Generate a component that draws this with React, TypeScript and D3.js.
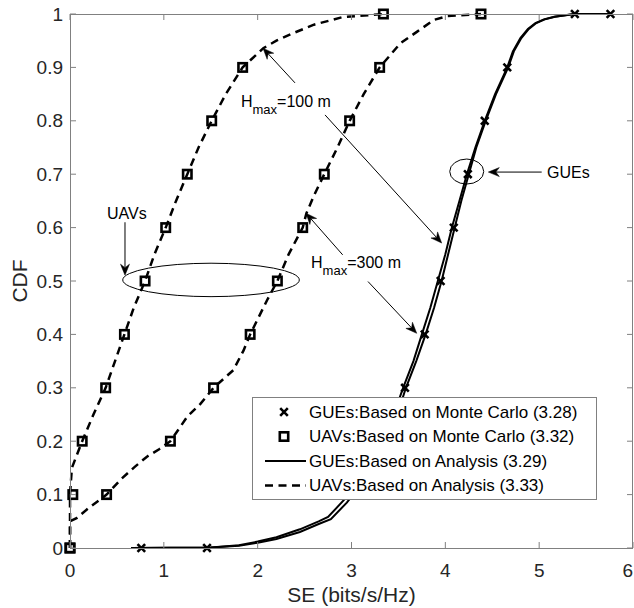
import React from "react";
import * as d3 from "d3";

// ---------- data ----------
const xTicks = [0, 1, 2, 3, 4, 5, 6];
const yTicks = [0, 0.1, 0.2, 0.3, 0.4, 0.5, 0.6, 0.7, 0.8, 0.9, 1];

// UAVs analysis, Hmax = 100 m
const uav100X = [0, 0, 0.02, 0.13, 0.25, 0.38, 0.48, 0.58, 0.68, 0.8, 0.9, 1.02, 1.13, 1.25, 1.37, 1.51, 1.66, 1.84, 2.06, 2.2, 2.35, 2.6, 2.9, 3.34];
const uav100Y = [0, 0.1, 0.15, 0.2, 0.25, 0.3, 0.35, 0.4, 0.45, 0.5, 0.55, 0.6, 0.65, 0.7, 0.75, 0.8, 0.85, 0.9, 0.936, 0.95, 0.962, 0.98, 0.994, 1];
// UAVs analysis, Hmax = 300 m
const uav300X = [0, 0, 0.07, 0.2, 0.39, 0.55, 0.69, 0.82, 0.95, 1.07, 1.25, 1.39, 1.53, 1.74, 1.85, 1.92, 2.1, 2.21, 2.33, 2.48, 2.52, 2.6, 2.71, 2.85, 2.98, 3.13, 3.3, 3.52, 3.7, 3.88, 4.02, 4.38];
const uav300Y = [0, 0.05, 0.056, 0.075, 0.1, 0.13, 0.152, 0.171, 0.185, 0.2, 0.246, 0.27, 0.3, 0.333, 0.37, 0.4, 0.464, 0.5, 0.55, 0.6, 0.627, 0.66, 0.7, 0.75, 0.8, 0.85, 0.9, 0.945, 0.967, 0.989, 0.996, 1];
// GUEs analysis, two heights
const gueAX = [0.65, 1.5, 1.8, 2.0, 2.2, 2.45, 2.65, 2.75, 2.92, 3.1, 3.3, 3.45, 3.55, 3.66, 3.75, 3.84, 3.92, 4.0, 4.07, 4.15, 4.23, 4.32, 4.42, 4.53, 4.66, 4.72, 4.8, 4.88, 4.96, 5.05, 5.16, 5.37, 5.76];
const gueAY = [0, 0.001, 0.005, 0.012, 0.02, 0.035, 0.05, 0.058, 0.09, 0.13, 0.19, 0.25, 0.3, 0.35, 0.4, 0.45, 0.5, 0.55, 0.6, 0.65, 0.7, 0.75, 0.8, 0.85, 0.9, 0.93, 0.955, 0.972, 0.983, 0.99, 0.995, 1, 1];
const gueBX = [0.65, 1.5, 1.8, 2.0, 2.2, 2.45, 2.65, 2.78, 2.95, 3.13, 3.33, 3.48, 3.58, 3.69, 3.79, 3.88, 3.96, 4.03, 4.1, 4.17, 4.25, 4.33, 4.43, 4.54, 4.67, 4.73, 4.81, 4.89, 4.97, 5.06, 5.17, 5.38, 5.76];
const gueBY = [0, 0.001, 0.004, 0.01, 0.017, 0.03, 0.045, 0.054, 0.085, 0.125, 0.185, 0.245, 0.3, 0.35, 0.4, 0.45, 0.5, 0.55, 0.6, 0.65, 0.7, 0.75, 0.8, 0.85, 0.9, 0.93, 0.955, 0.972, 0.983, 0.99, 0.995, 1, 1];

// Monte Carlo markers
const mcUav100X = [0, 0.03, 0.13, 0.38, 0.58, 0.8, 1.02, 1.25, 1.51, 1.84, 3.34];
const mcUav100Y = [0, 0.1, 0.2, 0.3, 0.4, 0.5, 0.6, 0.7, 0.8, 0.9, 1];
const mcUav300X = [0, 0.39, 1.07, 1.53, 1.92, 2.21, 2.48, 2.71, 2.98, 3.3, 4.38];
const mcUav300Y = [0, 0.1, 0.2, 0.3, 0.4, 0.5, 0.6, 0.7, 0.8, 0.9, 1];
const mcGueX = [0.76, 1.46, 3.57, 3.78, 3.95, 4.09, 4.24, 4.42, 4.66, 5.38, 5.76];
const mcGueY = [0, 0, 0.3, 0.4, 0.5, 0.6, 0.7, 0.8, 0.9, 1, 1];

const legendLabels = [
  "GUEs:Based on Monte Carlo (3.28)",
  "UAVs:Based on Monte Carlo (3.32)",
  "GUEs:Based on Analysis (3.29)",
  "UAVs:Based on Analysis (3.33)",
];

// annotations (data units)
const arrowFrom = [[0.586, 0.61], [2.398, 0.871], [2.718, 0.811], [2.906, 0.549], [3.176, 0.499], [5.027, 0.704]];
const arrowTo = [[0.586, 0.511], [2.057, 0.936], [3.961, 0.571], [2.515, 0.627], [3.695, 0.402], [4.458, 0.704]];
const ellipseCenters = [[1.503, 0.502], [4.228, 0.705]];
const ellipseRadii = [[0.941, 0.0313], [0.181, 0.0234]];
const noteLabels = ["UAVs", "GUEs"];
const notePos = [[0.394, 0.616], [5.084, 0.693]];
const hmaxLabels = ["=100 m", "=300 m"];
const hmaxPos = [[1.822, 0.825], [2.569, 0.524]];

// ---------- layout ----------
const W = 634, H = 608;
const L = 70, R = 633, T = 14, B = 548;
const FONT = "'Liberation Sans', Arial, Helvetica, sans-serif";
const AX = "#808080";
const TXT = "#262626";

const x = d3.scaleLinear().domain([0, 6]).range([L, R]);
const y = d3.scaleLinear().domain([0, 1]).range([B, T]);

const zip = (xs: number[], ys: number[]) => xs.map((v, i) => [v, ys[i]] as [number, number]);
const line = d3.line<[number, number]>().x((d) => x(d[0])).y((d) => y(d[1]));

function Arrow({ from, to }: { from: number[]; to: number[] }) {
  const x1 = x(from[0]), y1 = y(from[1]), x2 = x(to[0]), y2 = y(to[1]);
  const dx = x2 - x1, dy = y2 - y1;
  const len = Math.hypot(dx, dy);
  const ux = dx / len, uy = dy / len;
  const px = -uy, py = ux;
  const hl = 11, hw = 4.5, nb = 7.5;
  const bx = x2 - ux * hl, by = y2 - uy * hl;
  const nx = x2 - ux * nb, ny = y2 - uy * nb;
  const head = `M${x2},${y2}L${bx + px * hw},${by + py * hw}L${nx},${ny}L${bx - px * hw},${by - py * hw}Z`;
  return (
    <g>
      <line x1={x1} y1={y1} x2={nx} y2={ny} stroke="#000" strokeWidth={1} />
      <path d={head} fill="#000" stroke="#000" strokeWidth={0.5} />
    </g>
  );
}

function Square({ cx, cy }: { cx: number; cy: number }) {
  const s = 4.2;
  return <rect x={cx - s} y={cy - s} width={2 * s} height={2 * s} fill="none" stroke="#000" strokeWidth={2.6} />;
}
function Cross({ cx, cy }: { cx: number; cy: number }) {
  const s = 3.8;
  return (
    <path d={`M${cx - s},${cy - s}L${cx + s},${cy + s}M${cx - s},${cy + s}L${cx + s},${cy - s}`} stroke="#000" strokeWidth={2.6} fill="none" />
  );
}

export default function App() {
  const dash = "8,5.5";
  const legL = 252, legT = 397, legR = 596, legB = 499;
  const rowY = [412, 436.5, 461, 485.5];
  return (
    <svg width={W} height={H} style={{ position: "absolute", left: 0, top: 0, background: "#fff" }} fontFamily={FONT}>
      <rect x={0} y={0} width={W} height={H} fill="#fff" />
      <defs>
        <clipPath id="plot">
          <rect x={L - 6} y={T - 6} width={R - L + 12} height={B - T + 12} />
        </clipPath>
      </defs>

      {/* curves */}
      <g clipPath="url(#plot)" fill="none" stroke="#000">
        <path d={line(zip(uav100X, uav100Y)) || ""} strokeWidth={2.5} strokeDasharray={dash} />
        <path d={line(zip(uav300X, uav300Y)) || ""} strokeWidth={2.5} strokeDasharray={dash} />
        <path d={line(zip(gueAX, gueAY)) || ""} strokeWidth={2} />
        <path d={line(zip(gueBX, gueBY)) || ""} strokeWidth={2} />
      </g>
      <g>
        {zip(mcUav100X, mcUav100Y).map((d, i) => <Square key={"a" + i} cx={x(d[0])} cy={y(d[1])} />)}
        {zip(mcUav300X, mcUav300Y).map((d, i) => <Square key={"b" + i} cx={x(d[0])} cy={y(d[1])} />)}
        {zip(mcGueX, mcGueY).map((d, i) => <Cross key={"c" + i} cx={x(d[0])} cy={y(d[1])} />)}
      </g>

      {/* axes box */}
      <g stroke={AX} strokeWidth={1} fill="none">
        <line x1={L} y1={B + 0.5} x2={R} y2={B + 0.5} />
        <line x1={L} y1={T + 0.5} x2={R} y2={T + 0.5} />
        <line x1={L + 0.5} y1={T} x2={L + 0.5} y2={B} />
        <line x1={R - 0.5} y1={T} x2={R - 0.5} y2={B} />
        {xTicks.map((t) => (
          <g key={"xt" + t}>
            <line x1={x(t)} x2={x(t)} y1={B} y2={B - 6} />
            <line x1={x(t)} x2={x(t)} y1={T} y2={T + 6} />
          </g>
        ))}
        {yTicks.map((t) => (
          <g key={"yt" + t}>
            <line x1={L} x2={L + 6} y1={y(t)} y2={y(t)} />
            <line x1={R} x2={R - 6} y1={y(t)} y2={y(t)} />
          </g>
        ))}
      </g>
      <g fill={TXT} fontSize={19}>
        {xTicks.map((t, i) => (
          <text key={"xl" + t} x={i === xTicks.length - 1 ? W - 1 : x(t)} y={577} textAnchor={i === xTicks.length - 1 ? "end" : "middle"}>{String(t)}</text>
        ))}
        {yTicks.map((t) => (
          <text key={"yl" + t} x={63} y={y(t)} dy="0.35em" textAnchor="end">{String(+t.toFixed(1))}</text>
        ))}
      </g>
      <text x={(L + R) / 2} y={602} textAnchor="middle" fontSize={21} fill={TXT}>SE (bits/s/Hz)</text>
      <text transform={`translate(27,${(T + B) / 2}) rotate(-90)`} textAnchor="middle" fontSize={21} fill={TXT}>CDF</text>

      {/* annotations */}
      <g>
        {arrowFrom.map((f, i) => <Arrow key={"ar" + i} from={f} to={arrowTo[i]} />)}
        {ellipseCenters.map((c, i) => (
          <ellipse key={"el" + i} cx={x(c[0])} cy={y(c[1])} rx={x(ellipseRadii[i][0]) - x(0)} ry={y(0) - y(ellipseRadii[i][1])} fill="none" stroke="#000" strokeWidth={1} />
        ))}
        {noteLabels.map((s, i) => (
          <text key={"nl" + i} x={x(notePos[i][0])} y={y(notePos[i][1])} fontSize={16} fill="#000">{s}</text>
        ))}
        {hmaxLabels.map((s, i) => (
          <text key={"hm" + i} x={x(hmaxPos[i][0])} y={y(hmaxPos[i][1])} fontSize={16} fill="#000">
            H<tspan fontSize={13} dy={7}>max</tspan><tspan dy={-7}>{s}</tspan>
          </text>
        ))}
      </g>

      {/* legend */}
      <g>
        <rect x={legL + 0.5} y={legT + 0.5} width={legR - legL} height={legB - legT} fill="#fff" stroke={AX} strokeWidth={1} />
        <Cross cx={284} cy={rowY[0]} />
        <Square cx={284} cy={rowY[1]} />
        <line x1={265} x2={306} y1={rowY[2]} y2={rowY[2]} stroke="#000" strokeWidth={2.2} />
        <line x1={265} x2={306} y1={rowY[3]} y2={rowY[3]} stroke="#000" strokeWidth={2.5} strokeDasharray="8,5.5" />
        {legendLabels.map((s, i) => (
          <text key={"lg" + i} x={309} y={rowY[i]} dy="0.35em" fontSize={17} fill="#000">{s}</text>
        ))}
      </g>
    </svg>
  );
}
